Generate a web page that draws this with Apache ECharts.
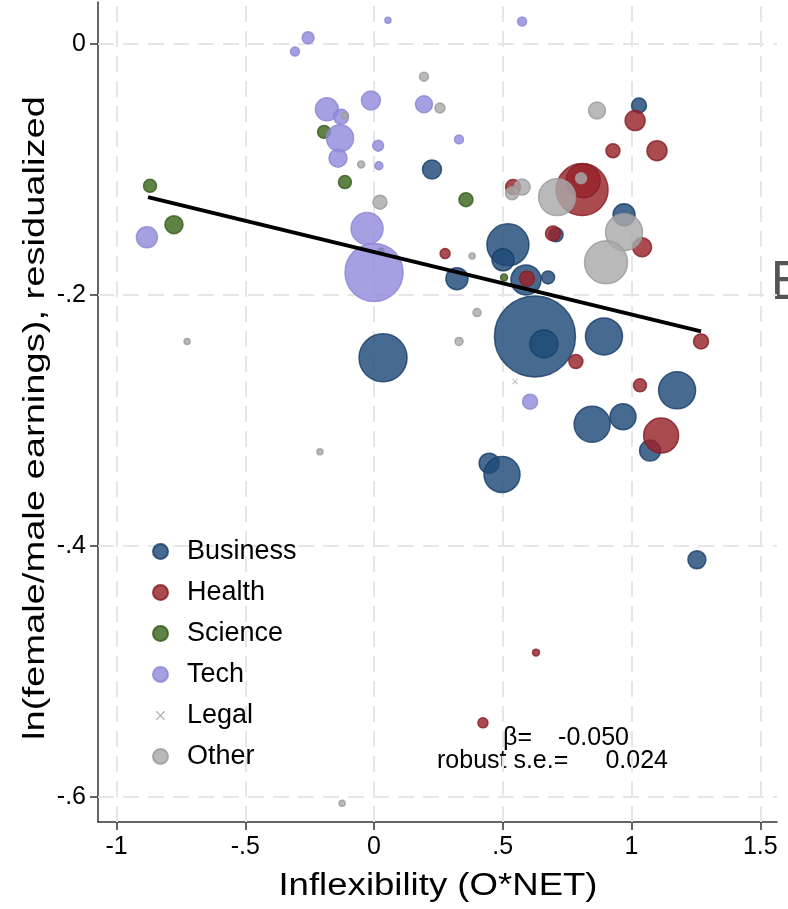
<!DOCTYPE html>
<html>
<head>
<meta charset="utf-8">
<script src="https://cdn.jsdelivr.net/npm/echarts@6/dist/echarts.min.js"></script>
<style>
  html, body { margin: 0; padding: 0; background: #fff; }
  #chart { width: 788px; height: 909px; }
</style>
</head>
<body>
<div id="chart"></div>
<script>
// Occupation points: [inflexibility, ln(female/male earnings) residualized, employment weight]
const business = [
  [1.029, -0.049, 56], [0.225, -0.100, 90], [0.971, -0.136, 121], [0.520, -0.160, 441],
  [0.501, -0.172, 121], [0.590, -0.188, 225], [0.676, -0.186, 42], [0.707, -0.152, 49],
  [0.322, -0.187, 121], [0.625, -0.233, 1640], [0.660, -0.239, 196], [0.893, -0.233, 342],
  [1.177, -0.276, 342], [0.847, -0.303, 324], [0.967, -0.297, 169], [1.072, -0.324, 110],
  [0.447, -0.334, 100], [0.497, -0.343, 324], [0.035, -0.250, 576], [1.254, -0.411, 81]
];
const health = [
  [1.014, -0.061, 100], [0.928, -0.085, 49], [1.099, -0.085, 100], [0.808, -0.116, 676],
  [0.812, -0.109, 289], [1.041, -0.162, 90], [0.276, -0.167, 25], [0.540, -0.114, 56],
  [0.695, -0.151, 56], [0.594, -0.187, 56], [1.270, -0.237, 56], [0.784, -0.253, 49],
  [1.033, -0.272, 42], [1.115, -0.312, 306], [0.629, -0.485, 12], [0.423, -0.541, 25]
];
const science = [
  [-0.870, -0.113, 42], [-0.777, -0.144, 81], [-0.194, -0.070, 42], [-0.113, -0.110, 42],
  [0.357, -0.124, 49], [0.027, -0.165, 9], [0.505, -0.186, 12]
];
const tech = [
  [0.054, 0.019, 9], [0.575, 0.018, 20], [-0.256, 0.005, 36], [-0.307, -0.006, 20],
  [-0.183, -0.052, 132], [-0.128, -0.058, 56], [-0.132, -0.075, 182], [-0.140, -0.091, 81],
  [-0.012, -0.045, 90], [0.016, -0.081, 30], [0.019, -0.097, 16], [0.194, -0.048, 72],
  [0.330, -0.076, 20], [-0.027, -0.147, 256], [0.000, -0.182, 841], [-0.882, -0.154, 110],
  [0.606, -0.285, 56]
];
const legal = [
  [0.548, -0.269, 4]
];
const other = [
  [0.194, -0.026, 20], [0.256, -0.051, 25], [-0.113, -0.057, 9], [-0.050, -0.096, 12],
  [0.023, -0.126, 49], [0.866, -0.053, 72], [0.575, -0.114, 64], [0.536, -0.119, 42],
  [0.711, -0.122, 342], [0.804, -0.107, 30], [0.971, -0.150, 342], [0.901, -0.174, 462],
  [-0.726, -0.237, 9], [-0.210, -0.325, 9], [-0.124, -0.605, 9], [0.400, -0.214, 16],
  [0.330, -0.237, 16], [0.381, -0.169, 9]
];

// Weighted linear fit, endpoints over the observed range
const fitX = [-0.878, 1.270];
const fitY = [-0.122, -0.229];
const betaText = '-0.050';
const seText = '0.024';

// Axis ticks
const xTicks = [-1, -0.5, 0, 0.5, 1, 1.5];
const yTicks = [0, -0.2, -0.4, -0.6];

const FONT = 'Liberation Sans, Arial, Helvetica, sans-serif';
const crossPath = 'path://M-3,-3L-3,-3M13,13L13,13M1,0L5,4L9,0L10,1L6,5L10,9L9,10L5,6L1,10L0,9L4,5L0,1Z';

function stataNum(v) {
  if (v === 0) return '0';
  return String(v).replace(/^(-?)0\./, '$1.');
}

function bubbles(name, data, fill, border) {
  return {
    name: name,
    type: 'scatter',
    data: data,
    symbolSize: function (v) { return 2 * Math.sqrt(v[2]); },
    itemStyle: { color: fill, borderColor: border, borderWidth: 1.5, opacity: 0.82 },
    emphasis: { disabled: true },
    z: 3
  };
}

const chart = echarts.init(document.getElementById('chart'), null, { renderer: 'canvas' });

const gridDash = { color: '#e6e6e6', width: 2, type: [16, 9] };

chart.setOption({
  animation: false,
  backgroundColor: '#fff',
  grid: { left: 98, right: 11, top: 2, bottom: 87, containLabel: false },
  xAxis: {
    type: 'value',
    min: -1.072,
    max: 1.565,
    splitNumber: 5,
    axisLine: { show: true, onZero: false, lineStyle: { color: '#333', width: 1.5 } },
    axisTick: { show: true, length: 8, customValues: xTicks, lineStyle: { color: '#333', width: 1.5 } },
    axisLabel: { customValues: xTicks, formatter: stataNum, fontSize: 25, color: '#000', fontFamily: FONT, margin: 13 },
    splitLine: { show: false }
  },
  yAxis: {
    type: 'value',
    min: -0.62,
    max: 0.0335,
    splitNumber: 4,
    axisLine: { show: true, onZero: false, lineStyle: { color: '#333', width: 1.5 } },
    axisTick: { show: true, length: 8, customValues: yTicks, lineStyle: { color: '#333', width: 1.5 } },
    axisLabel: { customValues: yTicks, formatter: stataNum, fontSize: 25, color: '#000', fontFamily: FONT, margin: 12 },
    splitLine: { show: false }
  },
  legend: {
    orient: 'vertical',
    left: 147,
    top: 533,
    z: 10,
    itemWidth: 15,
    itemHeight: 15,
    itemGap: 14,
    textStyle: { fontSize: 27, fontFamily: FONT, color: '#000', lineHeight: 27, padding: [0, 0, 0, 14] },
    data: [
      { name: 'Business', icon: 'circle' },
      { name: 'Health', icon: 'circle' },
      { name: 'Science', icon: 'circle' },
      { name: 'Tech', icon: 'circle' },
      { name: 'Legal', icon: crossPath },
      { name: 'Other', icon: 'circle' }
    ],
    selectedMode: false
  },
  series: [
    {
      name: 'grid',
      type: 'line',
      data: [],
      silent: true,
      z: 1,
      markLine: {
        silent: true,
        z: 1,
        symbol: 'none',
        label: { show: false },
        lineStyle: gridDash,
        emphasis: { disabled: true },
        data: xTicks.map(v => ({ xAxis: v })).concat(yTicks.map(v => ({ yAxis: v })))
      }
    },
    bubbles('Business', business, 'rgb(30,75,120)', 'rgb(28,62,105)'),
    bubbles('Health', health, 'rgb(151,35,41)', 'rgb(135,30,38)'),
    bubbles('Science', science, 'rgb(60,102,29)', 'rgb(55,92,28)'),
    bubbles('Tech', tech, 'rgb(145,139,218)', 'rgb(140,134,212)'),
    {
      name: 'Legal',
      type: 'scatter',
      data: legal,
      symbol: crossPath,
      symbolSize: 9,
      itemStyle: { color: 'rgb(160,160,160)' },
      emphasis: { disabled: true },
      z: 3
    },
    bubbles('Other', other, 'rgb(170,170,170)', 'rgb(155,155,155)'),
    {
      name: 'fit',
      type: 'line',
      data: [[fitX[0], fitY[0]], [fitX[1], fitY[1]]],
      showSymbol: false,
      symbol: 'none',
      lineStyle: { color: '#000', width: 4 },
      emphasis: { disabled: true },
      silent: true,
      z: 5
    }
  ],
  graphic: [
    {
      type: 'text',
      x: 36, y: 418,
      rotation: Math.PI / 2,
      scaleX: 1.27,
      style: {
        text: 'ln(female/male earnings), residualized',
        font: '30px ' + FONT, fill: '#000', align: 'center', verticalAlign: 'middle'
      }
    },
    {
      type: 'text',
      x: 438, y: 886,
      scaleX: 1.18,
      style: {
        text: 'Inflexibility (O*NET)',
        font: '31px ' + FONT, fill: '#000', align: 'center', verticalAlign: 'middle'
      }
    },
    { type: 'text', x: 503, y: 738, style: { text: 'β=', font: '25px ' + FONT, fill: '#000', align: 'left', verticalAlign: 'middle' } },
    { type: 'text', x: 629, y: 738, style: { text: betaText, font: '25px ' + FONT, fill: '#000', align: 'right', verticalAlign: 'middle' } },
    { type: 'text', x: 437, y: 761, style: { text: 'robust s.e.=', font: '25px ' + FONT, fill: '#000', align: 'left', verticalAlign: 'middle' } },
    { type: 'text', x: 668, y: 761, style: { text: seText, font: '25px ' + FONT, fill: '#000', align: 'right', verticalAlign: 'middle' } },
    { type: 'text', x: 770, y: 284, style: { text: 'E', font: '52px Noto Sans, sans-serif', fill: '#555', align: 'left', verticalAlign: 'middle' } }
  ]
});
</script>
</body>
</html>
